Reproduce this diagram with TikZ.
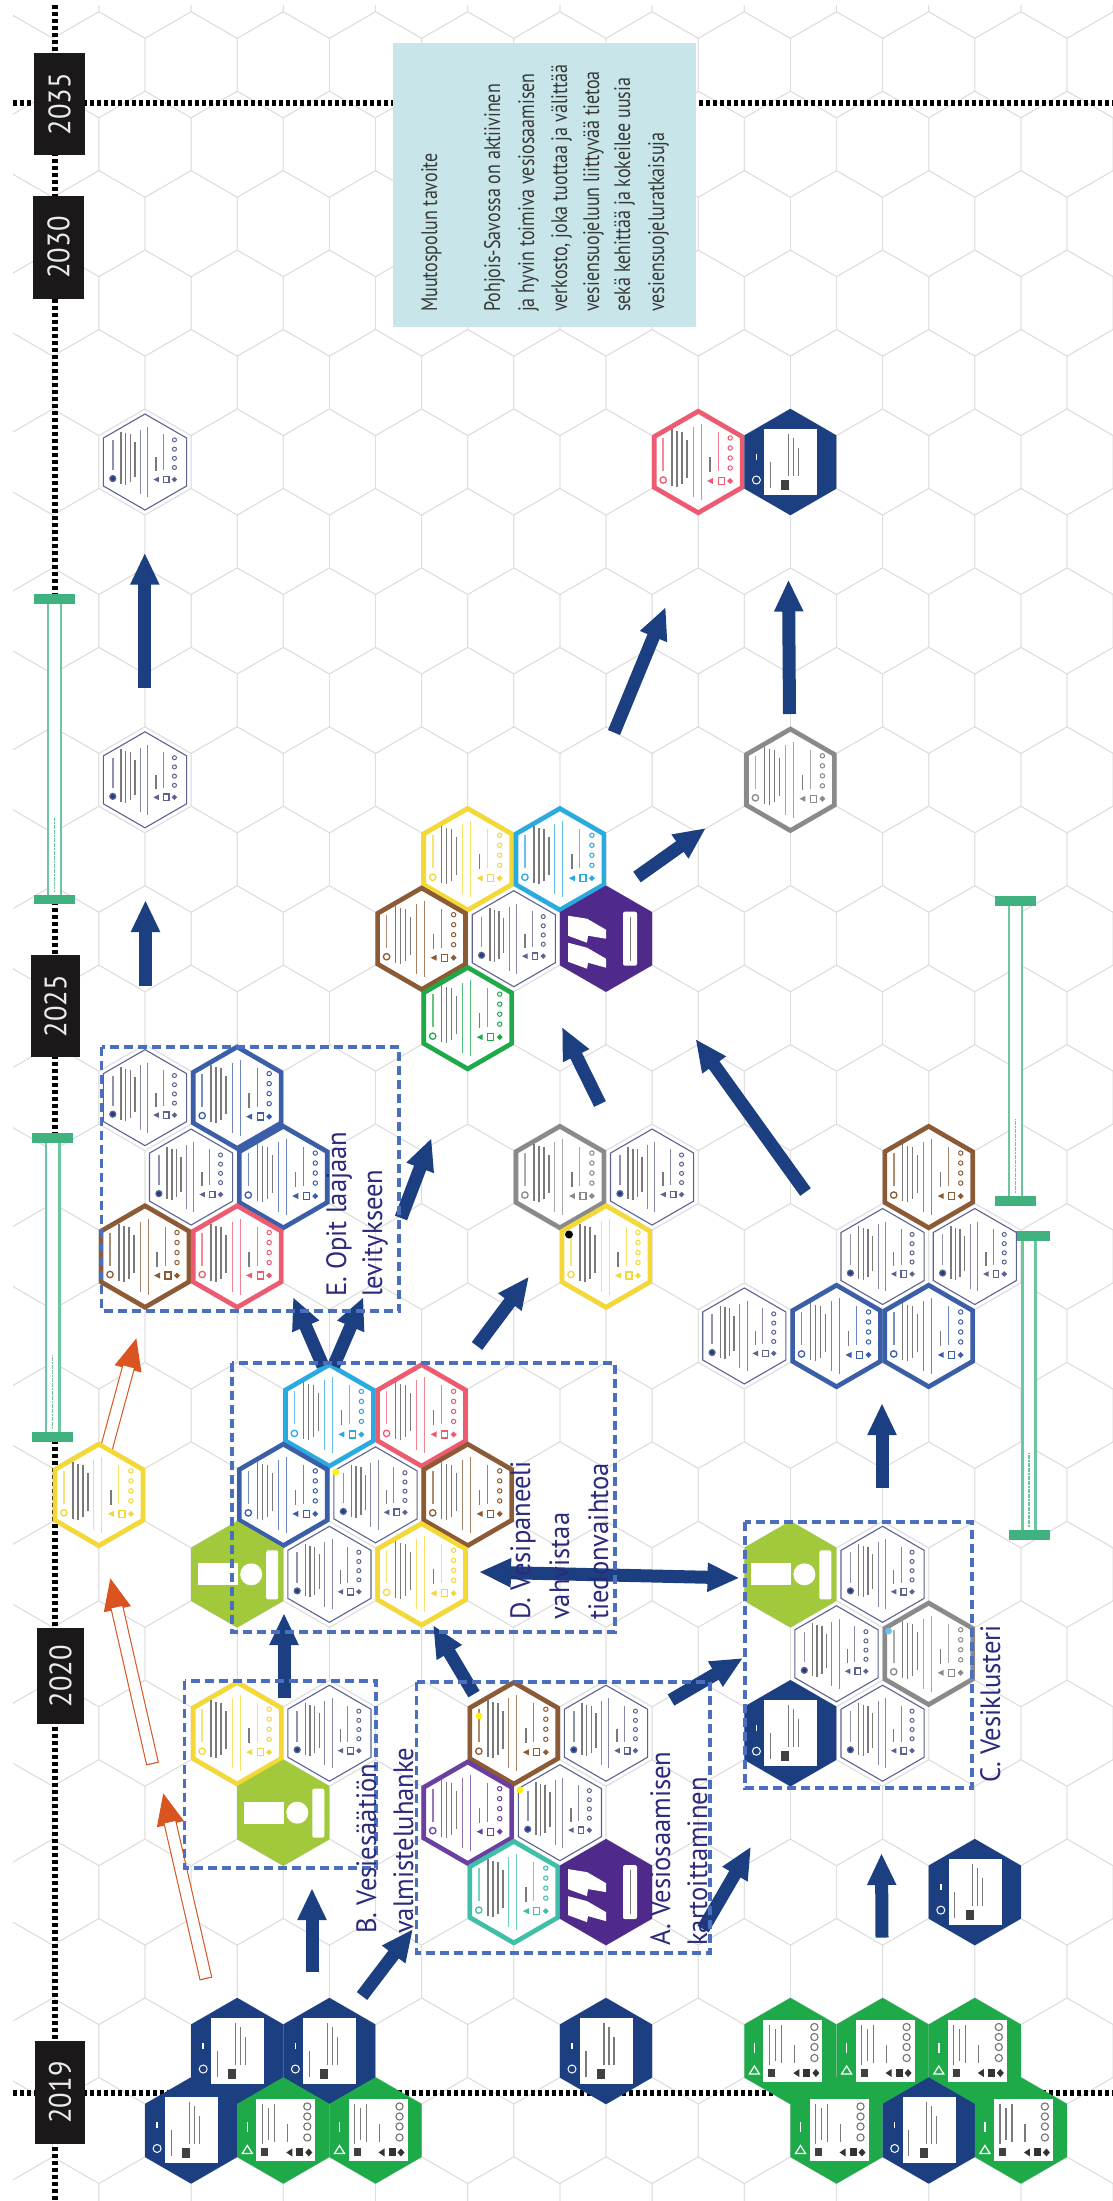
\documentclass[tikz,border=0pt]{standalone}
\usepackage{fontspec}
\setmainfont{PT Sans}
\newfontfamily\goalfont[FakeStretch=0.8]{PT Sans}
\newfontfamily\labelfont[FakeStretch=0.95]{PT Sans}
\newfontfamily\yearfont[FakeStretch=0.92]{PT Sans}
\usetikzlibrary{arrows.meta}
\definecolor{navyc}{HTML}{1C3F82}
\definecolor{labelc}{HTML}{2B2A7C}
\definecolor{yellowc}{HTML}{F4D835}
\definecolor{skyc}{HTML}{29ABE2}
\definecolor{brownc}{HTML}{8C5A34}
\definecolor{pinkc}{HTML}{EE5A6F}
\definecolor{bluec}{HTML}{3A5FA8}
\definecolor{greyc}{HTML}{8A8A8A}
\definecolor{greenc}{HTML}{1FAA4A}
\definecolor{violetc}{HTML}{6A3FA0}
\definecolor{tealc}{HTML}{3FBFA8}
\definecolor{deepc}{HTML}{4F2A8A}
\definecolor{limec}{HTML}{A2C93C}
\definecolor{thinc}{HTML}{5C6390}
\definecolor{goalc}{HTML}{C8E6EA}
\definecolor{barc}{HTML}{3FB27F}
\definecolor{barl}{HTML}{6CC7A0}
\definecolor{orangec}{HTML}{D9541E}
\definecolor{dashc}{HTML}{4A6FBF}
\definecolor{yearc}{HTML}{1A1818}
\tikzset{
  gridhex/.style={draw=black!13,line width=0.75pt},
  timeline/.style={draw=black,line width=6.5pt,dash pattern=on 4pt off 3pt},
  yearbox/.style={fill=yearc,draw=none},
  yeartext/.style={text=white!92!black,font=\yearfont\fontsize{31}{31}\selectfont,rotate=90,inner sep=0pt},
  goaltext/.style={text=black!78,font=\goalfont\fontsize{22.5}{22.5}\selectfont,rotate=90,anchor=base west,inner sep=0pt},
  labeltext/.style={text=labelc,font=\labelfont\fontsize{28}{28}\selectfont,rotate=90,anchor=base west,inner sep=0pt},
  flow/.style={draw=navyc,line width=13pt,-{Triangle[width=27pt,length=32pt]}},
  flowboth/.style={draw=navyc,line width=13pt,{Triangle[width=27pt,length=32pt]}-{Triangle[width=27pt,length=32pt]}},
  groupbox/.style={draw=dashc,line width=3.2pt,dash pattern=on 9pt off 5pt},
  inktext/.style={draw=black!52,line width=1.5pt},
  tinyline/.style={line width=1pt},
}
\newcommand{\hexp}[1]{(90:#1) -- (150:#1) -- (210:#1) -- (270:#1) -- (330:#1) -- (30:#1) -- cycle}
\newcommand{\hexpos}[2]{\pgfmathsetmacro\hx{145+92.2*(#1)+46.1*mod(abs(#2),2)}\pgfmathsetmacro\hy{462+79.45*(#2)}}
\newcommand{\cardinner}[2]{%
  \draw[#1,line width=1.3pt,fill=#2] (-35,18) circle (3.2);
  \draw[#1!70!white,line width=1.6pt] (-35,-24) -- (-35,9);
  \foreach \a/\b/\c in {-26/-33/24,-21/-31/25,-16/-30/22,-11/-22/16}{\draw[inktext] (\a,\b) -- (\a,\c);}
  \draw[#1!75!white,tinyline] (-5,-35) -- (-5,35);
  \draw[#1!75!white,tinyline] (3,-38) -- (3,38);
  \draw[inktext] (12,-5) -- (12,10);
  \draw[#1!75!white,tinyline] (20,-30) -- (20,9);
  \fill[#1] (9,19) -- (15,16) -- (15,22) -- cycle;
  \draw[#1,line width=1.3pt,fill=white] (20,15.5) rectangle (26,22.5);
  \fill[#1] (29,19) -- (32,16) -- (35,19) -- (32,22) -- cycle;
  \foreach \b in {-24,-14,-4,6}{\draw[#1,line width=1pt] (32,\b) circle (2.2);}
}
\newcommand{\cardring}[4]{% name, col, row, colour
  \hexpos{#2}{#3}
  \begin{scope}[shift={(\hx,\hy)}]
    \coordinate (#1) at (0,0);
    \draw[fill=white,draw=#4,line width=4.6pt,line join=miter] \hexp{50.7};
    \cardinner{#4}{white}
  \end{scope}}
\newcommand{\cardthin}[3]{% name, col, row
  \hexpos{#2}{#3}
  \begin{scope}[shift={(\hx,\hy)}]
    \coordinate (#1) at (0,0);
    \draw[fill=white,draw=thinc,line width=1.1pt] \hexp{48};
    \begin{scope}[scale=0.92]\cardinner{thinc}{navyc}\end{scope}
  \end{scope}}
\newcommand{\cardsolid}[3]{% name, col, row
  \hexpos{#2}{#3}
  \begin{scope}[shift={(\hx,\hy)}]
    \coordinate (#1) at (0,0);
    \fill[navyc] \hexp{53.2};
    \fill[white] (-26,-33) rectangle (27,33);
    \draw[white,line width=1pt] (-34,18) circle (4);
    \draw[white,line width=1.5pt] (-34,-8) -- (-34,-2);
    \draw[inktext,line width=1.2pt] (-20,0) -- (-20,26);
    \draw[inktext,line width=1.2pt] (-2,-28) -- (-2,14);
    \draw[inktext,line width=1.2pt] (3,-24) -- (3,14);
    \draw[inktext,line width=1.2pt] (8,-14) -- (8,14);
    \fill[black!75] (-9,18) rectangle (-1,28);
  \end{scope}}
\newcommand{\cardgreen}[3]{% name, col, row
  \hexpos{#2}{#3}
  \begin{scope}[shift={(\hx,\hy)}]
    \coordinate (#1) at (0,0);
    \fill[greenc] \hexp{53.2};
    \fill[white] (-27,-31) rectangle (32,31);
    \draw[white,line width=1.2pt] (-36,15) -- (-31,23) -- (-41,23) -- cycle;
    \draw[white,line width=1.5pt] (-36,-8) -- (-36,2);
    \draw[inktext,line width=1.2pt] (-21,-26) -- (-21,14);
    \draw[inktext,line width=1.2pt] (-15,-22) -- (-15,10);
    \draw[inktext,line width=1.2pt] (-9,-26) -- (-9,12);
    \fill[black!75] (-22,18) rectangle (-15,26);
    \draw[inktext,line width=1.2pt] (4,-6) -- (4,12);
    \fill[black!80] (3,22) -- (9,18) -- (9,26) -- cycle;
    \fill[black!80] (13,18) rectangle (20,26);
    \fill[black!80] (22,22) -- (25.5,18) -- (29,22) -- (25.5,26) -- cycle;
    \foreach \b in {-24,-14,-4,7}{\draw[black!55,line width=1.1pt] (24,\b) circle (3.6);}
  \end{scope}}
\newcommand{\cardinfo}[3]{% name, col, row
  \hexpos{#2}{#3}
  \begin{scope}[shift={(\hx,\hy)}]
    \coordinate (#1) at (0,0);
    \fill[limec] \hexp{53.2};
    \fill[white] (-39,-11) rectangle (1,11);
    \fill[white] (14,0) circle (11);
    \fill[white,rounded corners=2pt] (29,-24) rectangle (41,25);
  \end{scope}}
\newcommand{\carddeep}[3]{% name, col, row
  \hexpos{#2}{#3}
  \begin{scope}[shift={(\hx,\hy)}]
    \coordinate (#1) at (0,0);
    \fill[deepc] \hexp{53.2};
    \fill[white] (-38,-23) -- (-19,-20) -- (0,-9) -- (0,0) -- (-18,-3) -- (-19,4) -- (-38,-3) -- cycle;
    \fill[white] (-38,4) -- (-19,9) -- (0,20) -- (0,29) -- (-18,24) -- (-19,30) -- (-38,23) -- cycle;
    \fill[white,rounded corners=2pt] (17,-27) rectangle (31,27);
    \draw[inktext,line width=1pt] (24,-22) -- (24,22);
  \end{scope}}
\newcommand{\flowpair}[5]{% name, x1,y1,x2,y2
  \coordinate (#1a) at (#2,#3);
  \coordinate (#1b) at (#4,#5);
  \draw[flow] (#1a) -- (#1b);}
\newcommand{\hollow}[5]{% name, x1,y1,x2,y2
  \coordinate (#1a) at (#2,#3);
  \coordinate (#1b) at (#4,#5);
  \draw[orangec,line width=13pt,-{Triangle[width=25pt,length=33pt]}] (#1a) -- (#1b);
  \draw[white,line width=10.8pt,shorten >=31pt,shorten <=1.2pt] (#1a) -- (#1b);}
\newcommand{\timebar}[4]{% name, x, top, bottom
  \coordinate (#1t) at (#2,#3);
  \coordinate (#1b) at (#2,#4);
  \draw[barl,line width=2.4pt,fill=white] ([xshift=-6.6pt]#1t) rectangle ([xshift=6.6pt]#1b);
  \fill[barc] ([shift={(-20.5pt,-4.6pt)}]#1t) rectangle ([shift={(20.5pt,4.6pt)}]#1t);
  \fill[barc] ([shift={(-20.5pt,-4.6pt)}]#1b) rectangle ([shift={(20.5pt,4.6pt)}]#1b);
  \draw[barl,line width=1.4pt,dash pattern=on 2pt off 0.6pt] ([yshift=8pt]#1b) -- ([yshift=82pt]#1b);}
\begin{document}
\begin{tikzpicture}[x=1pt,y=-1pt]
\useasboundingbox (0,0) rectangle (1113,2201);
\fill[white] (0,0) rectangle (1113,2201);
% background honeycomb
\begin{scope}
  \clip (13,5) rectangle (1113,2201);
  \foreach \k in {-6,...,23}{
    \foreach \n in {-2,...,11}{
      \hexpos{\n}{\k}
      \begin{scope}[shift={(\hx,\hy)}]
        \draw[gridhex] \hexp{53.2};
      \end{scope}
    }
  }
\end{scope}
% timeline
\coordinate (tlT) at (55,5);
\coordinate (tlB) at (55,2201);
\coordinate (h35a) at (13,103);
\coordinate (h35b) at (1113,103);
\coordinate (h19a) at (13,2093);
\coordinate (h19b) at (1113,2093);
\draw[timeline] (tlT) -- (tlB);
\draw[timeline] (h35a) -- (h35b);
\draw[timeline] (h19a) -- (h19b);
% year boxes
\fill[yearbox] (34,53) rectangle (85,155);
\node[yeartext] (y2035) at (59.5,104) {2035};
\fill[yearbox] (33,196) rectangle (84,299);
\node[yeartext] (y2030) at (58.5,247.5) {2030};
\fill[yearbox] (30.5,955) rectangle (80,1057);
\node[yeartext] (y2025) at (55.5,1006) {2025};
\fill[yearbox] (37,1628) rectangle (84,1724);
\node[yeartext] (y2020) at (60.5,1676) {2020};
\fill[yearbox] (35,2041) rectangle (85,2144);
\node[yeartext] (y2019) at (60,2092.5) {2019};
% goal box
\fill[goalc] (393,43) rectangle (696,327);
\node[goaltext] (g0) at (437,312) {Muutospolun tavoite};
\node[goaltext] (g1) at (500,312) {Pohjois-Savossa on aktiivinen};
\node[goaltext] (g2) at (534,312) {ja hyvin toimiva vesiosaamisen};
\node[goaltext] (g3) at (567,312) {verkosto, joka tuottaa ja välittää};
\node[goaltext] (g4) at (599,312) {vesiensuojeluun liittyvää tietoa};
\node[goaltext] (g5) at (630,312) {sekä kehittää ja kokeilee uusia};
\node[goaltext] (g6) at (664,312) {vesiensuojeluratkaisuja};
% time bars
\timebar{ba}{54.6}{599}{899.5}
\timebar{bb}{52.7}{1138}{1437}
\timebar{bc}{1015.6}{901}{1201}
\timebar{bd}{1029}{1236}{1535}
% hollow orange arrows
\hollow{oa}{106}{1450}{136.7}{1337}
\hollow{ob}{152.6}{1764}{110}{1577}
\hollow{oc}{206}{1979}{163}{1792}
% cards: top
\cardthin{w1}{0}{0}
\cardring{r1}{6}{0}{pinkc}
\cardsolid{s1}{7}{0}
\cardthin{w2}{0}{4}
\cardring{gr1}{7}{4}{greyc}
% cards: upper cluster
\cardring{c1}{3}{5}{yellowc}
\cardring{c2}{4}{5}{skyc}
\cardring{c3}{3}{6}{brownc}
\cardthin{c4}{4}{6}
\carddeep{c5}{5}{6}
\cardring{c6}{3}{7}{greenc}
% cards: E
\cardthin{e1}{0}{8}
\cardring{e2}{1}{8}{bluec}
\cardthin{e3}{0}{9}
\cardring{e4}{1}{9}{bluec}
\cardring{e5}{0}{10}{brownc}
\cardring{e6}{1}{10}{pinkc}
% cards: middle
\cardring{m1}{4}{9}{greyc}
\cardthin{m2}{5}{9}
\cardring{m3}{5}{10}{yellowc}
% cards: right
\cardring{q1}{8}{9}{brownc}
\cardthin{q2}{8}{10}
\cardthin{q3}{9}{10}
\cardthin{q4}{6}{11}
\cardring{q5}{7}{11}{bluec}
\cardring{q6}{8}{11}{bluec}
% cards: D
\cardring{d1}{2}{12}{skyc}
\cardring{d2}{3}{12}{pinkc}
\cardring{d3}{1}{13}{bluec}
\cardthin{d4}{2}{13}
\cardring{d5}{3}{13}{brownc}
\cardinfo{d6}{1}{14}
\cardthin{d7}{2}{14}
\cardring{d8}{3}{14}{yellowc}
\cardring{y1}{-1}{13}{yellowc}
% cards: C
\cardinfo{k1}{7}{14}
\cardthin{k2}{8}{14}
\cardthin{k3}{7}{15}
\cardring{k4}{8}{15}{greyc}
\cardsolid{k5}{7}{16}
\cardthin{k6}{8}{16}
% cards: B
\cardring{b1}{1}{16}{yellowc}
\cardthin{b2}{2}{16}
\cardinfo{b3}{1}{17}
% cards: A
\cardring{a1}{4}{16}{brownc}
\cardthin{a2}{5}{16}
\cardring{a3}{3}{17}{violetc}
\cardthin{a4}{4}{17}
\cardring{a5}{4}{18}{tealc}
\carddeep{a6}{5}{18}
\cardsolid{s2}{9}{18}
% cards: bottom
\cardsolid{z1}{1}{20}
\cardsolid{z2}{2}{20}
\cardsolid{z3}{5}{20}
\cardgreen{z4}{7}{20}
\cardgreen{z5}{8}{20}
\cardgreen{z6}{9}{20}
\cardsolid{z7}{0}{21}
\cardgreen{z8}{1}{21}
\cardgreen{z9}{2}{21}
\cardgreen{z10}{7}{21}
\cardsolid{z11}{8}{21}
\cardgreen{z12}{9}{21}
% dots
\fill[black] (569,1234.5) circle (4);
\fill[yellow] (335.7,1472) circle (3.4);
\fill[yellow] (479,1716) circle (3.4);
\fill[yellow] (520,1790) circle (3.4);
\fill[skyc!70!white] (888.6,1631) circle (3.4);
% navy arrows
\flowpair{f1}{144.8}{687.5}{144.8}{552.7}
\flowpair{f2}{614}{732.5}{665.7}{607}
\flowpair{f3}{789.5}{714}{788.5}{579.5}
\flowpair{f4}{145.5}{986}{145.5}{900}
\flowpair{f5}{637}{877}{706}{828}
\flowpair{f6}{600}{1104}{562}{1027}
\flowpair{f7}{805.5}{1192}{695.5}{1039}
\flowpair{f8}{401}{1218}{431.5}{1138}
\flowpair{f9}{323}{1366}{293}{1297}
\flowpair{f10}{333.6}{1366}{363.4}{1297}
\flowpair{f11}{477}{1346}{529}{1276.5}
\flowpair{f12}{882}{1488}{882}{1403}
\flowpair{f13}{284}{1698}{284}{1613}
\flowpair{f14}{474}{1694}{433}{1625}
\flowpair{f15}{671}{1700}{743}{1658}
\flowpair{f16}{312}{1972}{312}{1888}
\flowpair{f17}{362}{1996}{413}{1929}
\flowpair{f18}{703}{1929}{751}{1846.5}
\flowpair{f19}{882}{1937.5}{881.5}{1853}
\coordinate (f20a) at (479,1572);
\coordinate (f20b) at (739.5,1578);
\draw[flowboth] (f20a) -- (f20b);
% dashed groups
\draw[groupbox] (101.5,1047) rectangle (399,1311);
\draw[groupbox] (232,1363) rectangle (615,1632);
\draw[groupbox] (184.5,1681) rectangle (376,1868);
\draw[groupbox] (416.6,1682) rectangle (710,1953);
\draw[groupbox] (745,1522) rectangle (972,1788);
% group labels
\node[labeltext] (le1) at (346,1297) {E. Opit laajaan};
\node[labeltext] (le2) at (382,1297) {levitykseen};
\node[labeltext] (ld1) at (530,1620) {D. Vesipaneeli};
\node[labeltext] (ld2) at (569,1620) {vahvistaa};
\node[labeltext] (ld3) at (608,1620) {tiedonvaihtoa};
\node[labeltext] (lc1) at (1000,1783) {C. Vesiklusteri};
\node[labeltext] (la1) at (670,1946) {A. Vesiosaamisen};
\node[labeltext] (la2) at (707,1946) {kartoittaminen};
\node[labeltext] (lb1) at (376,1934) {B. Vesiesäätiön};
\node[labeltext] (lb2) at (413,1934) {valmisteluhanke};
\end{tikzpicture}
\end{document}
